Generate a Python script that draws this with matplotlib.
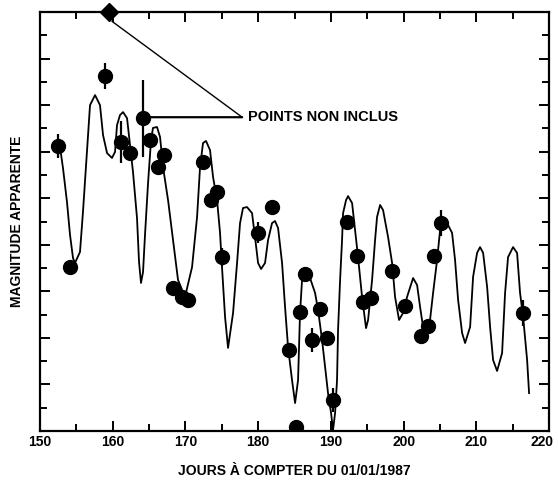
import matplotlib
matplotlib.use("Agg")
import matplotlib.pyplot as plt
import matplotlib.transforms as mtransforms
from matplotlib.ticker import MultipleLocator, NullFormatter

plt.rcParams['font.family'] = ['Liberation Sans', 'DejaVu Sans']

# Observed points (day, apparent magnitude in arbitrary units, error)
obs_day = [152.5, 154.1, 158.9, 161.1, 162.4, 164.2, 165.1, 166.2, 167.0,
           168.3, 169.5, 170.4, 172.4, 173.5, 174.3, 175.0, 180.0, 181.9,
           184.25, 185.2, 185.8, 186.45, 187.4, 188.5, 189.5, 190.3, 192.2,
           193.6, 194.4, 195.5, 198.4, 200.2, 202.4, 203.4, 204.2, 205.2, 216.4]
obs_mag = [12.24, 7.04, 15.25, 12.4, 11.94, 13.44, 12.5, 11.34, 11.86,
           6.14, 5.76, 5.63, 11.56, 9.92, 10.27, 7.47, 8.51, 9.62,
           3.48, 0.17, 5.11, 6.74, 3.91, 5.24, 4.0, 1.33, 8.98,
           7.52, 5.54, 5.71, 6.87, 5.37, 4.08, 4.51, 7.52, 8.93, 5.07]
obs_err = [0.5, 0.3, 0.55, 0.9, 0.3, 1.65, 0.3, 0.3, 0.3,
           0.3, 0.3, 0.3, 0.3, 0.3, 0.3, 0.4, 0.45, 0.0,
           0.3, 0.3, 0.3, 0.3, 0.5, 0.3, 0.3, 0.5, 0.3,
           0.3, 0.3, 0.35, 0.3, 0.3, 0.3, 0.3, 0.3, 0.55, 0.55]

# Point outside the fit (at the top edge)
excl_day = [159.5]
excl_mag = [18.0]

# Fitted curve
curve_day = [152.75, 153.16, 153.71, 154.13, 154.54, 154.81, 155.50, 155.91, 156.46, 156.88,
             157.57, 158.25, 158.67, 159.22, 159.90, 160.32, 160.59, 161.00, 161.42, 161.97,
             162.38, 162.79, 163.34, 163.62, 163.89, 164.17, 164.44, 164.86, 165.27, 165.54,
             166.09, 166.51, 166.92, 167.61, 168.29, 168.98, 169.94, 170.91, 171.60, 172.01,
             172.42, 172.83, 173.38, 173.80, 174.35, 174.76, 175.03, 175.45, 175.86, 176.55,
             177.10, 177.51, 177.92, 178.47, 179.16, 179.57, 179.99, 180.40, 180.95, 181.36,
             181.91, 182.32, 182.74, 183.29, 183.70, 184.11, 184.66, 185.08, 185.49, 185.76,
             186.04, 186.45, 187.14, 187.83, 188.24, 188.79, 189.20, 189.61, 190.03, 190.30,
             190.58, 190.85, 190.99, 191.27, 191.54, 191.68, 192.09, 192.37, 192.92, 193.33,
             193.74, 194.29, 194.84, 195.12, 195.67, 196.08, 196.35, 196.77, 197.18, 197.87,
             198.42, 198.83, 199.38, 199.93, 200.48, 201.31, 201.86, 202.27, 202.68, 202.96,
             203.64, 204.06, 204.61, 205.02, 205.43, 205.98, 206.67, 207.08, 207.50, 208.05,
             208.46, 209.15, 209.56, 210.11, 210.52, 210.94, 211.49, 211.90, 212.31, 212.86,
             213.55, 213.96, 214.37, 215.06, 215.61, 216.02, 216.44, 216.99, 217.26]
curve_mag = [12.20, 11.30, 9.84, 8.42, 7.43, 7.22, 7.69, 9.41, 11.99, 14.00,
             14.43, 14.00, 12.71, 11.94, 11.73, 11.99, 13.14, 13.57, 13.70, 13.44,
             12.29, 11.13, 9.15, 7.26, 6.36, 6.83, 8.42, 10.65, 12.50, 13.02,
             13.06, 12.63, 11.34, 9.92, 8.20, 6.49, 5.76, 7.04, 9.19, 11.34,
             12.37, 12.46, 12.07, 10.91, 9.92, 8.51, 7.04, 4.90, 3.57, 5.07,
             7.22, 8.93, 9.58, 9.62, 9.36, 8.33, 7.22, 6.96, 7.22, 8.20,
             8.93, 9.02, 8.72, 7.22, 5.33, 3.61, 2.19, 1.20, 2.19, 5.07,
             6.49, 6.70, 6.57, 5.93, 5.20, 3.91, 2.75, 1.63, 0.77, 0.04,
             0.77, 2.19, 4.34, 6.49, 8.20, 9.36, 9.92, 10.09, 9.79, 8.63,
             7.47, 5.76, 4.42, 4.77, 6.49, 8.20, 9.19, 9.71, 9.49, 8.33,
             7.22, 5.76, 4.77, 5.07, 5.76, 6.57, 6.27, 5.33, 4.47, 4.34,
             4.77, 5.93, 7.35, 8.63, 8.98, 8.93, 8.51, 7.35, 5.63, 4.21,
             3.78, 4.47, 6.62, 7.65, 7.90, 7.65, 6.19, 4.47, 3.05, 2.58,
             3.35, 5.93, 7.47, 7.90, 7.65, 5.93, 4.90, 3.05, 1.63]

x_ticks = [150, 160, 170, 180, 190, 200, 210, 220]
annot_text = "POINTS NON INCLUS"

fig = plt.figure(figsize=(5.58, 4.82), dpi=100)
ax = fig.add_axes([40 / 558, 51 / 482, 509 / 558, 419 / 482])

ax.plot(curve_day, curve_mag, color='black', lw=1.3, zorder=2,
        solid_joinstyle='round')
ax.errorbar(obs_day, obs_mag, yerr=obs_err, fmt='o', color='black', ms=10,
            elinewidth=1.6, capsize=0, zorder=3)
ax.plot(excl_day, excl_mag, marker='D', color='black', ms=9, ls='none',
        clip_on=False, zorder=4)

# Annotation for points not included
joint = (177.8, 13.48)
ax.annotate("", xy=(159.9, 17.6), xytext=joint,
            arrowprops=dict(arrowstyle='-', color='black', lw=1.0,
                            shrinkA=0, shrinkB=0))
ax.annotate("", xy=(165.2, 13.48), xytext=joint,
            arrowprops=dict(arrowstyle='-', color='black', lw=1.6,
                            shrinkA=0, shrinkB=0))
ax.text(178.6, 13.48, annot_text, fontsize=10.5, fontweight='bold',
        va='center', ha='left')

ax.set_xlim(150, 220)
ax.set_ylim(0, 18)
ax.set_xticks(x_ticks)
ax.set_xticklabels([str(t) for t in x_ticks], fontsize=10, fontweight='bold')
ax.xaxis.set_minor_locator(MultipleLocator(5))
ax.yaxis.set_major_locator(MultipleLocator(2))
ax.yaxis.set_minor_locator(MultipleLocator(1))
ax.yaxis.set_major_formatter(NullFormatter())
ax.tick_params(which='both', direction='in', top=True, right=True, width=1.4,
               colors='black')
ax.tick_params(which='major', length=7, pad=3)
ax.tick_params(which='minor', length=5)
for s in ax.spines.values():
    s.set_linewidth(1.6)

# shift the last tick label slightly left so that it stays inside the figure
last = ax.get_xticklabels()[-1]
last.set_transform(last.get_transform() +
                   mtransforms.ScaledTranslation(-5 / 72, 0, fig.dpi_scale_trans))

ax.set_xlabel("JOURS À COMPTER DU 01/01/1987", fontsize=10, fontweight='bold',
              labelpad=11)
ax.set_ylabel("MAGNITUDE APPARENTE", fontsize=10, fontweight='bold', labelpad=8)

fig.savefig("out.png", dpi=100)
